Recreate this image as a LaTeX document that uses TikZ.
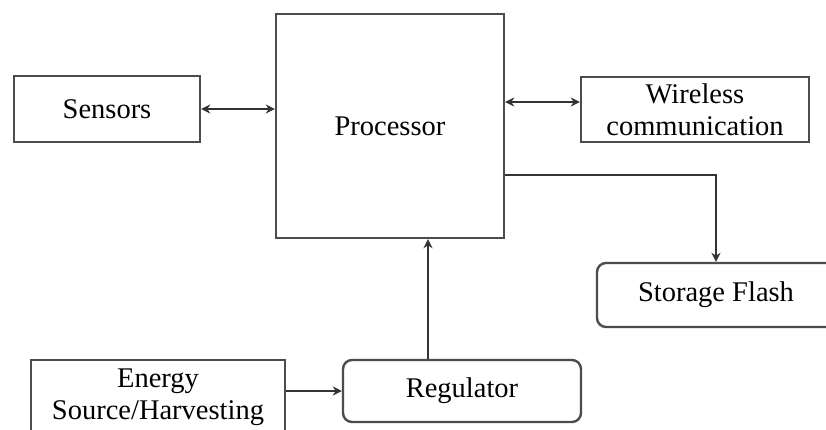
\documentclass[tikz,border=0pt]{standalone}
\usepackage{fontspec}
\setmainfont{Liberation Serif}
\usetikzlibrary{arrows.meta}
\begin{document}
\begin{tikzpicture}[x=1pt,y=-1pt,
  blk/.style={draw=black!70,line width=2.4pt,inner sep=0pt,align=center,
              font=\fontsize{28.5}{32}\selectfont},
  rblk/.style={blk,rounded corners=9pt},
  link/.style={draw=black!80,line width=2.2pt},
  tip/.style={-{Stealth[length=9pt,width=9pt]}},
  twotip/.style={{Stealth[length=9pt,width=9pt]}-{Stealth[length=9pt,width=9pt]}}]
\clip (0,0) rectangle (826,430);
\fill[white] (0,0) rectangle (826,430);

% blocks
\node[blk,minimum width=186pt,minimum height=66pt] (sensors) at (107,109) {Sensors};
\node[blk,minimum width=228pt,minimum height=224pt] (proc) at (390,126) {Processor};
\node[blk,minimum width=228pt,minimum height=65pt] (wireless) at (695,109.5) {Wireless\\communication};
\node[rblk,minimum width=238pt,minimum height=64pt] (storage) at (716,295) {Storage Flash};
\node[blk,minimum width=254pt,minimum height=74pt] (energy) at (158,397) {Energy\\Source/Harvesting};
\node[rblk,minimum width=238pt,minimum height=62pt] (reg) at (462,391) {Regulator};

% connectors
\draw[link,twotip] (sensors.east) -- (sensors.east -| proc.west);
\coordinate (wl) at ([yshift=7.5pt]wireless.west);
\draw[link,twotip] (wl -| proc.east) -- (wl);
\draw[link,tip] ([yshift=-49pt]proc.east) -| (storage.north);
\coordinate (rt) at ([xshift=-34pt]reg.north);
\draw[link,tip] (rt) -- (rt |- proc.south);
\draw[link,tip] (energy.east |- reg.west) -- (reg.west);
\end{tikzpicture}
\end{document}
